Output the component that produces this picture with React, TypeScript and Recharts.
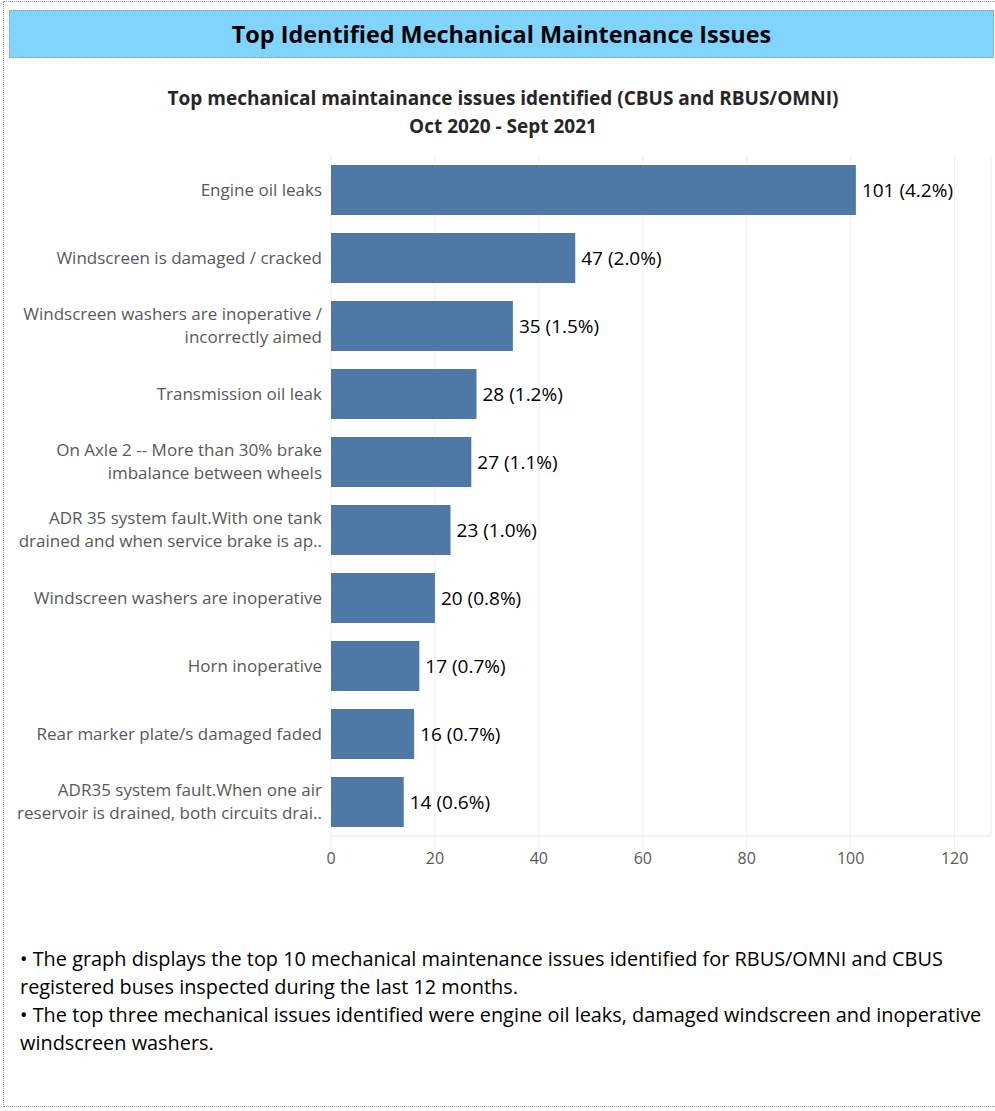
import React from "react";
import { BarChart, Bar, XAxis, YAxis, CartesianGrid, LabelList } from "recharts";

const categories = [
  "Engine oil leaks",
  "Windscreen is damaged / cracked",
  "Windscreen washers are inoperative /\nincorrectly aimed",
  "Transmission oil leak",
  "On Axle 2 -- More than 30% brake\nimbalance between wheels",
  "ADR 35 system fault.With one tank\ndrained and when service brake is ap..",
  "Windscreen washers are inoperative",
  "Horn inoperative",
  "Rear marker plate/s damaged faded",
  "ADR35 system fault.When one air\nreservoir is drained, both circuits drai..",
];
const counts = [101, 47, 35, 28, 27, 23, 20, 17, 16, 14];
const percents = ["4.2%", "2.0%", "1.5%", "1.2%", "1.1%", "1.0%", "0.8%", "0.7%", "0.7%", "0.6%"];
const xTicks = [0, 20, 40, 60, 80, 100, 120];

const data = categories.map((c, i) => ({
  name: c,
  value: counts[i],
  label: `${counts[i]} (${percents[i]})`,
}));

const FONT = "'Open Sans', Lato, sans-serif";

const CategoryTick = (props: any) => {
  const { x, y, payload } = props;
  const lines = String(payload.value).split("\n");
  const lh = 23;
  const start = -((lines.length - 1) * lh) / 2;
  return (
    <g>
      {lines.map((l: string, i: number) => (
        <text
          key={i}
          x={x}
          y={y + start + i * lh}
          dy="0.35em"
          textAnchor="end"
          fill="#595959"
          fontSize={17}
          fontFamily={FONT}
        >
          {l}
        </text>
      ))}
    </g>
  );
};

export default function App() {
  return (
    <div
      style={{
        position: "absolute",
        left: 0,
        top: 0,
        width: 995,
        height: 1111,
        background: "#fff",
        fontFamily: FONT,
      }}
    >
      <div
        style={{
          position: "absolute",
          left: 3,
          top: 1,
          width: 996,
          height: 1106,
          border: "1px dotted #9a9a9a",
          boxSizing: "border-box",
        }}
      />
      <div
        style={{
          position: "absolute",
          left: 9,
          top: 10,
          width: 985,
          height: 48,
          background: "#80D4FF",
          border: "1px dotted #7a9aa8",
          boxSizing: "border-box",
          display: "flex",
          alignItems: "center",
          justifyContent: "center",
          fontWeight: 700,
          fontSize: 23.4,
          color: "#000",
        }}
      >
        Top Identified Mechanical Maintenance Issues
      </div>
      <div
        style={{
          position: "absolute",
          left: 0,
          top: 84,
          width: 1006,
          textAlign: "center",
          fontWeight: 700,
          fontSize: 19,
          lineHeight: "28px",
          color: "#262626",
        }}
      >
        Top mechanical maintainance issues identified (CBUS and RBUS/OMNI)
        <br />
        Oct 2020 - Sept 2021
      </div>
      <div style={{ position: "absolute", left: 0, top: 140 }}>
        <BarChart
          width={995}
          height={740}
          data={data}
          layout="vertical"
          margin={{ top: 16, right: 4, bottom: 14, left: 0 }}
          barCategoryGap={9}
        >
          <CartesianGrid horizontal={false} stroke="#EFEFEF" />
          <XAxis
            type="number"
            domain={[0, 127]}
            ticks={xTicks}
            height={30}
            axisLine={{ stroke: "#E3E3E3" }}
            tickLine={{ stroke: "#EFEFEF" }}
            tickSize={13}
            tickMargin={4}
            tick={{ fill: "#595959", fontSize: 16, fontFamily: FONT }}
            interval={0}
          />
          <YAxis
            type="category"
            dataKey="name"
            width={331}
            axisLine={false}
            tickLine={false}
            tickSize={0}
            tickMargin={9}
            tick={<CategoryTick />}
            interval={0}
          />
          <Bar dataKey="value" fill="#4E79A7" isAnimationActive={false}>
            <LabelList
              dataKey="label"
              position="right"
              offset={6}
              fill="#000"
              fontSize={19}
              fontFamily={FONT}
            />
          </Bar>
        </BarChart>
      </div>
      <div
        style={{
          position: "absolute",
          left: 20,
          top: 945,
          width: 975,
          fontSize: 19.9,
          lineHeight: "28px",
          color: "#000",
          whiteSpace: "nowrap",
        }}
      >
        • The graph displays the top 10 mechanical maintenance issues identified for RBUS/OMNI and CBUS
        <br />
        registered buses inspected during the last 12 months.
        <br />• The top three mechanical issues identified were engine oil leaks, damaged windscreen and inoperative
        <br />
        windscreen washers.
      </div>
    </div>
  );
}
